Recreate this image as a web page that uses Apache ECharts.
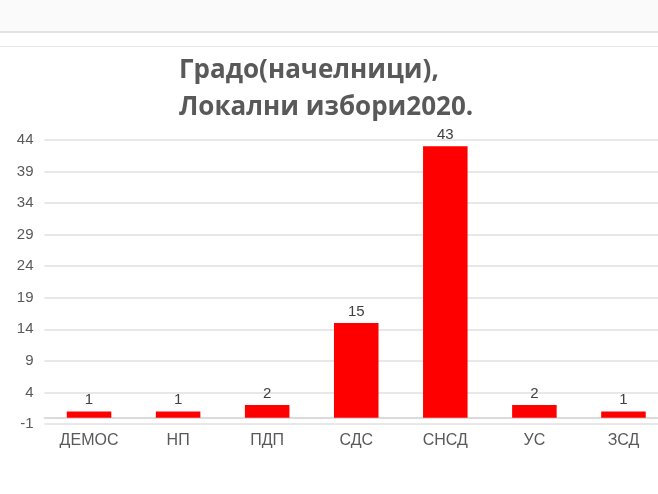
<!DOCTYPE html>
<html>
<head>
<meta charset="utf-8">
<script src="https://cdn.jsdelivr.net/npm/echarts@6/dist/echarts.min.js"></script>
<style>
html,body{margin:0;padding:0;background:#fff;overflow:hidden;width:658px;height:494px;}
#chart{width:668px;height:494px;}
</style>
</head>
<body>
<div id="chart"></div>
<script>
var titleLines = ['Градо(начелници),', 'Локални избори2020.'];
var categories = ['ДЕМОС', 'НП', 'ПДП', 'СДС', 'СНСД', 'УС', 'ЗСД'];
var mayors = [1, 1, 2, 15, 43, 2, 1];
var yMin = -1, yMax = 44, yStep = 5;

var chart = echarts.init(document.getElementById('chart'), null, {renderer: 'canvas'});
chart.setOption({
  animation: false,
  backgroundColor: '#ffffff',
  graphic: [
    {type: 'rect', left: 0, top: 0, shape: {width: 668, height: 31}, style: {fill: '#fafafa'}, z: 0},
    {type: 'rect', left: 0, top: 31, shape: {width: 668, height: 2}, style: {fill: '#e3e3e3'}, z: 0},
    {type: 'rect', left: 0, top: 46, shape: {width: 668, height: 1}, style: {fill: '#e8e8e8'}, z: 0}
  ],
  title: {
    text: titleLines.join('\n'),
    left: 174,
    top: 47,
    textStyle: {
      fontFamily: 'Open Sans',
      fontWeight: 'bold',
      fontSize: 26,
      lineHeight: 37,
      color: '#595959'
    }
  },
  grid: {left: 44.5, right: 0, top: 140, bottom: 70, containLabel: false},
  xAxis: {
    type: 'category',
    data: categories,
    axisTick: {show: false},
    axisLine: {show: true, onZero: true, lineStyle: {color: '#cfcfcf', width: 1.5}},
    axisLabel: {color: '#595959', fontSize: 16, fontFamily: 'Liberation Sans', margin: 9, interval: 0}
  },
  yAxis: {
    type: 'value',
    min: yMin,
    max: yMax,
    interval: yStep,
    axisLine: {show: false},
    axisTick: {show: false},
    splitLine: {lineStyle: {color: '#e0e0e0', width: 1.5}},
    axisLabel: {color: '#595959', fontSize: 15, fontFamily: 'Liberation Sans', margin: 11}
  },
  series: [{
    type: 'bar',
    data: mayors,
    barWidth: '50%',
    itemStyle: {color: '#ff0000'},
    label: {show: true, position: 'top', distance: 4, color: '#404040', fontSize: 15, fontFamily: 'Liberation Sans'}
  }]
});
</script>
</body>
</html>
